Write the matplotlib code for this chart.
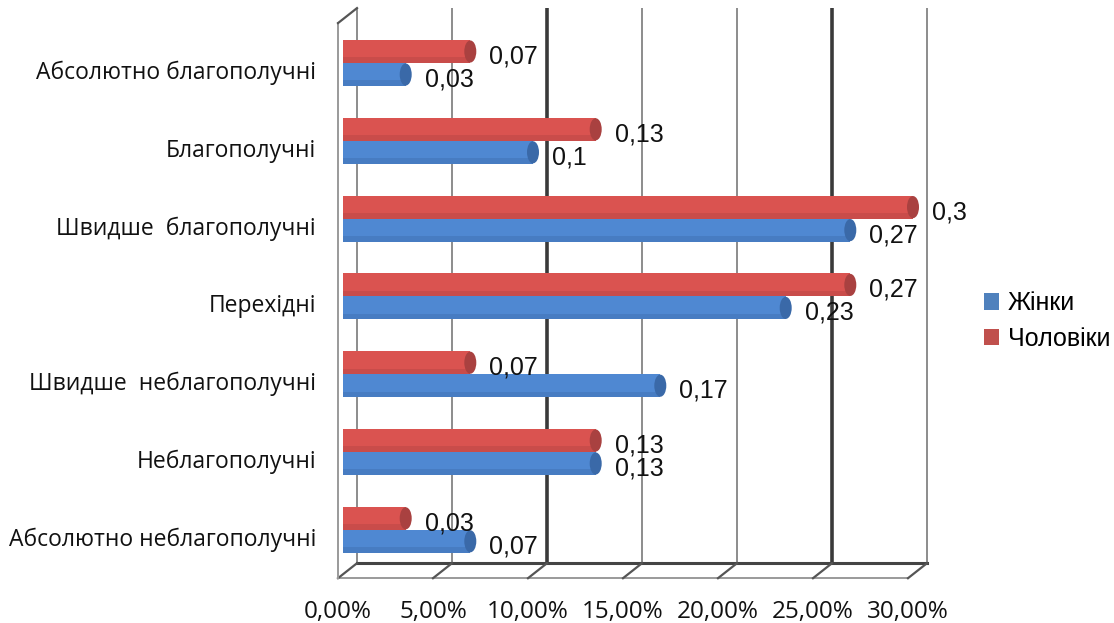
import matplotlib.pyplot as plt
from matplotlib.patches import Ellipse, Polygon, Patch

# Дані (частка респондентів)
categories = [
    "Абсолютно благополучні",
    "Благополучні",
    "Швидше  благополучні",
    "Перехідні",
    "Швидше  неблагополучні",
    "Неблагополучні",
    "Абсолютно неблагополучні",
]
women = [0.033, 0.100, 0.267, 0.233, 0.167, 0.133, 0.067]
men = [0.067, 0.133, 0.300, 0.267, 0.067, 0.133, 0.033]
ticks = [0.0, 0.05, 0.10, 0.15, 0.20, 0.25, 0.30]
tick_labels = ["0,00%", "5,00%", "10,00%", "15,00%", "20,00%", "25,00%", "30,00%"]

BLUE, BLUE_DARK, BLUE_LEG = "#4F88D2", "#3A69A8", "#4F81BD"
RED, RED_DARK, RED_LEG = "#DA5350", "#A94140", "#C0504D"

# pixel -> data scales (axes fill the whole figure)
SX = 1900.0  # px per unit on x
SY = 77.8    # px per category on y
px = 1 / SX
py = 1 / SY

fig = plt.figure(figsize=(11.14, 6.23), dpi=100)
ax = fig.add_axes([0, 0, 1, 1])
ax.set_xlim(-343 * px, (1114 - 343) * px)
ax.set_ylim((623 - 63) * py, -63 * py)
ax.axis("off")

n = len(categories)
xmax = ticks[-1]
# 3D frame: back wall, floor and left wall offsets (bar plane = 0)
bdx, bdy = 14 * px, -10 * py   # back plane
fdx, fdy = -5 * px, 5 * py     # front plane
top = -0.5 - 6 * py + bdy
floor = n - 1 + 0.5 + 4.5 * py

# back wall gridlines
for t in ticks:
    dark = t in (0.10, 0.25)
    ax.plot([t + bdx, t + bdx], [top, floor + bdy],
            color="#3a3a3a" if dark else "#8c8c8c",
            lw=2.6 if dark else 1.4, zorder=1, solid_capstyle="butt")

# floor
floor_poly = Polygon([(fdx, floor + fdy), (xmax + fdx, floor + fdy),
                      (xmax + bdx, floor + bdy), (bdx, floor + bdy)],
                     closed=True, fc="white", ec="none", zorder=1)
ax.add_patch(floor_poly)
ax.plot([bdx, xmax + bdx], [floor + bdy, floor + bdy], color="#444444", lw=2.2, zorder=2)
ax.plot([fdx, xmax + fdx], [floor + fdy, floor + fdy], color="#9a9a9a", lw=1.4, zorder=2)
for t in ticks:
    ax.plot([t + fdx, t + bdx], [floor + fdy, floor + bdy], color="#555555", lw=1.6, zorder=2)

# left wall
ax.plot([fdx, fdx], [top + (fdy - bdy), floor + fdy], color="#9a9a9a", lw=1.4, zorder=2)
ax.plot([fdx, bdx], [top + (fdy - bdy), top], color="#555555", lw=1.6, zorder=2)

# bars
h = 23 * py
cap_w = 12 * px
y = list(range(n))
y_men = [v - h / 2 for v in y]
y_women = [v + h / 2 for v in y]
ax.barh(y_men, men, height=h, color=RED, zorder=3)
ax.barh(y_women, women, height=h, color=BLUE, zorder=3)
# darker lower edge of the bars
ax.barh([v + h * 0.38 for v in y_men], men, height=h * 0.24, color="#C94C4A", zorder=3)
ax.barh([v + h * 0.38 for v in y_women], women, height=h * 0.24, color="#477CC2", zorder=3)
for vals, ys, dark in ((men, y_men, RED_DARK), (women, y_women, BLUE_DARK)):
    for v, yc in zip(vals, ys):
        ax.add_patch(Ellipse((v, yc), cap_w, h * 0.96, fc=dark, ec="none", zorder=4))


def fmt(v):
    s = f"{v:.2f}".rstrip("0")
    return s.replace(".", ",")


for vals, ys in ((men, y_men), (women, y_women)):
    for v, yc in zip(vals, ys):
        ax.text(v + 19 * px, yc + 5 * py, fmt(v), ha="left", va="center",
                fontsize=18, family="Liberation Sans", color="#111111", zorder=5)

# category labels
for i, c in enumerate(categories):
    ax.text(-27 * px, i + 10 * py, c, ha="right", va="center",
            fontsize=16.5, family="Open Sans", color="#111111")

# x tick labels (front edge)
for t, lab in zip(ticks, tick_labels):
    ax.text(t + fdx, floor + fdy + 34 * py, lab, ha="center", va="center",
            fontsize=17.5, family="Open Sans", color="#111111")

handles = [Patch(fc=BLUE_LEG, ec="none"), Patch(fc=RED_LEG, ec="none")]
fig.legend(handles, ["Жінки", "Чоловіки"], loc="center left",
           bbox_to_anchor=(961 / 1114, 1 - 321 / 623), frameon=False,
           prop={"family": "Liberation Sans", "size": 18},
           handlelength=0.62, handleheight=0.62, handletextpad=0.35,
           labelspacing=0.45)

fig.savefig("out.png", dpi=100)
